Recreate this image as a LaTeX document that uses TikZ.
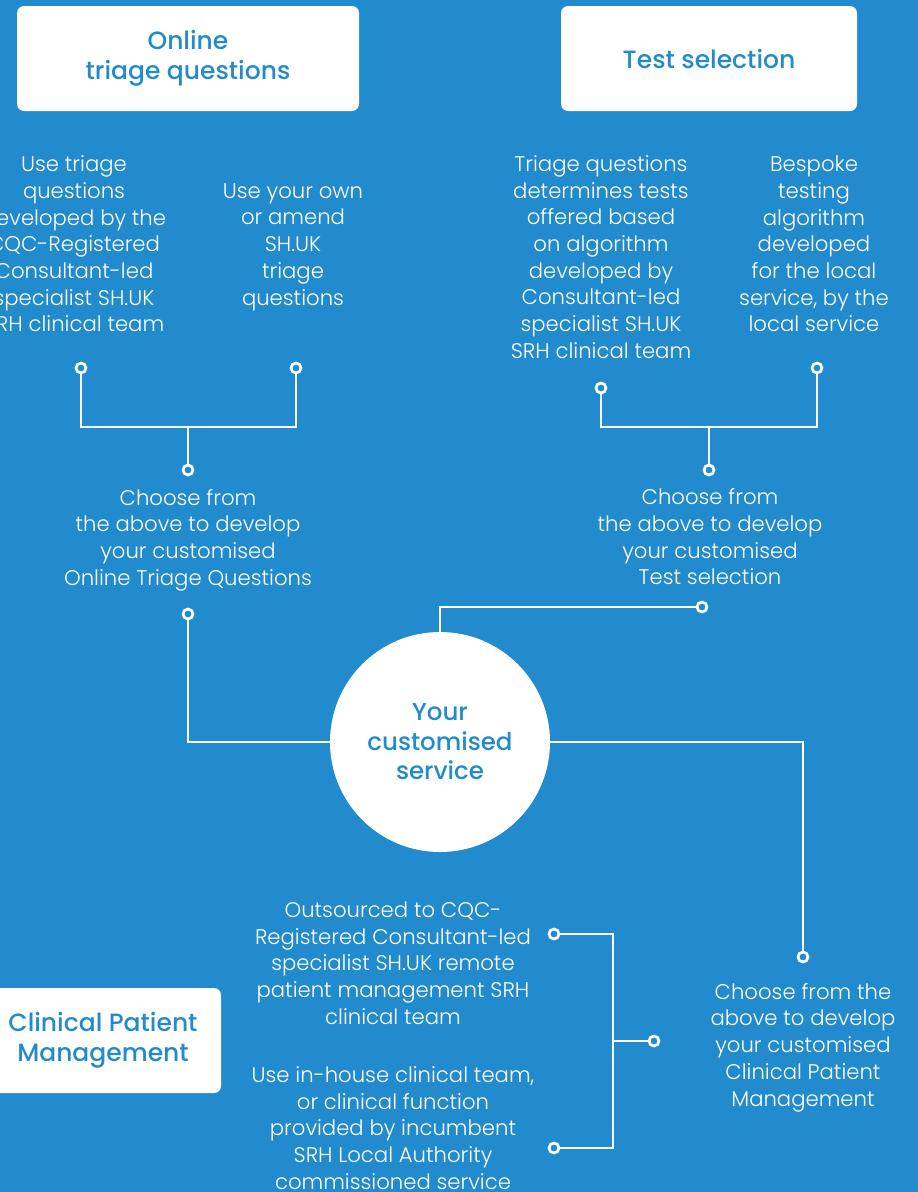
\documentclass[tikz,border=0pt]{standalone}
\usepackage{fontspec}
\setmainfont{Poppins}[UprightFont=* Light, BoldFont=* Medium]
\usepackage{tikz}
\usetikzlibrary{shapes.geometric,calc,positioning}

\definecolor{bgblue}{RGB}{34,139,205}

\begin{document}
\begin{tikzpicture}[x=1pt, y=-1pt]
	\tikzstyle{headbox} = [rectangle, rounded corners=7pt, fill=white, text=bgblue, align=center, minimum height=105pt, font=\fontsize{25}{30}\selectfont\bfseries]
	\tikzstyle{bodytext} = [text=white, align=center, inner sep=0pt, font=\fontsize{21.2}{26.7}\selectfont]
	\tikzstyle{ringdot} = [circle, draw=white, fill=bgblue, line width=2.7pt, minimum size=10pt, inner sep=0pt]
	\tikzstyle{hubcircle} = [circle, fill=white, text=bgblue, align=center, minimum size=220pt, font=\fontsize{24.5}{29.5}\selectfont\bfseries]
	\tikzstyle{wire} = [draw=white, line width=2.7pt]

\useasboundingbox (0,0) rectangle (918,1192);
\fill[bgblue] (0,0) rectangle (918,1192);

% header boxes
\node[headbox, minimum width=342pt] (triage) at (188, 58.5) {Online\\triage questions};
\node[headbox, minimum width=296pt] (tests) at (709, 58.5) {Test selection};
\node[headbox, minimum width=236pt] (cpm) at (103, 1040.5) {Clinical Patient\\Management};

% centre
\node[hubcircle] (hub) at (440, 742) {Your\\customised\\service};

% options
\node[bodytext] (t1) at (74, 244) {Use triage\\questions\\developed by the\\CQC-Registered\\Consultant-led\\specialist SH.UK\\SRH clinical team};
\node[bodytext] (t2) at (293, 247) {Use your own\\or amend\\SH.UK\\triage\\questions};
\node[bodytext] (t3) at (601, 257) {Triage questions\\determines tests\\offered based\\on algorithm\\developed by\\Consultant-led\\specialist SH.UK\\SRH clinical team};
\node[bodytext] (t4) at (814, 244) {Bespoke\\testing\\algorithm\\developed\\for the local\\service, by the\\local service};
\node[bodytext] (c1) at (188, 540) {Choose from\\the above to develop\\your customised\\Online Triage Questions};
\node[bodytext] (c2) at (710, 537) {Choose from\\the above to develop\\your customised\\Test selection};
\node[bodytext] (c3) at (803, 1047.5) {Choose from the\\above to develop\\your customised\\Clinical Patient\\Management};
\node[bodytext] (o1) at (393, 963) {Outsourced to CQC-\\Registered Consultant-led\\specialist SH.UK remote\\patient management SRH\\clinical team};
\node[bodytext] (o2) at (393, 1128) {Use in-house clinical team,\\or clinical function\\provided by incumbent\\SRH Local Authority\\commissioned service};

% end rings
\node[ringdot] (d11) at (81, 368) {};
\node[ringdot] (d12) at (296, 368) {};
\node[ringdot] (d13) at (188, 470) {};
\node[ringdot] (d14) at (188, 614) {};
\node[ringdot] (d21) at (601, 388) {};
\node[ringdot] (d22) at (817, 368) {};
\node[ringdot] (d23) at (709, 470) {};
\node[ringdot] (d24) at (702, 607) {};
\node[ringdot] (d31) at (803, 957) {};
\node[ringdot] (d32) at (554, 934) {};
\node[ringdot] (d33) at (554, 1148) {};
\node[ringdot] (d34) at (654, 1041) {};
\coordinate (j1) at (188, 427);
\coordinate (j2) at (709, 427);
\coordinate (j3) at (613, 1041);

	\path[wire] (d11) |- (j1) -| (d12);
	\path[wire] (j1) -- (d13);
	\path[wire] (d21) |- (j2) -| (d22);
	\path[wire] (j2) -- (d23);
	\path[wire] (d14) |- (hub);
	\path[wire] (hub) |- (d24);
	\path[wire] (hub) -| (d31);
	\path[wire] (d32) -| (j3) |- (d33);
	\path[wire] (j3) -- (d34);
\end{tikzpicture}
\end{document}
